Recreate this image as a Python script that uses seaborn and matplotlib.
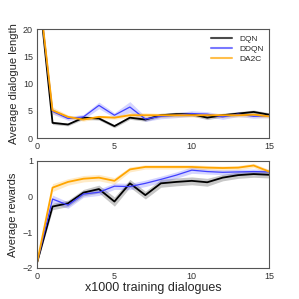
import numpy as np
import pandas as pd
import matplotlib
matplotlib.use("Agg")
import matplotlib.pyplot as plt
import seaborn as sns

x = list(range(16))
models = ["DQN", "DDQN", "DA2C"]

len_dqn = [30.0, 2.8, 2.5, 3.75, 3.6, 2.2, 3.75, 3.4, 4.2, 4.4, 4.4, 3.75, 4.2, 4.5, 4.8, 4.3]
len_ddqn = [30.0, 4.9, 3.6, 3.9, 6.0, 4.2, 5.7, 3.5, 4.0, 4.2, 4.5, 4.4, 3.9, 4.4, 4.0, 4.1]
len_da2c = [30.0, 5.1, 3.9, 3.4, 3.9, 3.75, 4.2, 4.2, 4.2, 4.2, 4.2, 4.2, 4.2, 4.2, 4.3, 4.0]
len_err_dqn = [0.3, 0.3, 0.25, 0.3, 0.3, 0.3, 0.3, 0.3, 0.35, 0.35, 0.35, 0.35, 0.35, 0.35, 0.35, 0.35]
len_err_ddqn = [0.3, 0.5, 0.35, 0.45, 0.6, 0.45, 1.0, 0.45, 0.45, 0.45, 0.5, 0.45, 0.45, 0.45, 0.35, 0.35]
len_err_da2c = [0.3, 0.6, 0.35, 0.3, 0.3, 0.3, 0.45, 0.45, 0.35, 0.35, 0.35, 0.35, 0.35, 0.35, 0.35, 0.35]

rew_dqn = [-1.85, -0.28, -0.19, 0.11, 0.21, -0.14, 0.37, 0.04, 0.37, 0.41, 0.44, 0.40, 0.53, 0.60, 0.63, 0.61]
rew_ddqn = [-1.85, -0.07, -0.24, 0.07, 0.12, 0.29, 0.28, 0.37, 0.48, 0.60, 0.74, 0.70, 0.68, 0.69, 0.70, 0.69]
rew_da2c = [-1.85, 0.25, 0.41, 0.50, 0.53, 0.44, 0.76, 0.83, 0.83, 0.83, 0.83, 0.81, 0.80, 0.81, 0.87, 0.70]
rew_err_dqn = [0.03, 0.09, 0.09, 0.09, 0.11, 0.13, 0.11, 0.11, 0.11, 0.11, 0.11, 0.11, 0.09, 0.09, 0.09, 0.09]
rew_err_ddqn = [0.03, 0.11, 0.09, 0.09, 0.09, 0.09, 0.09, 0.09, 0.09, 0.09, 0.09, 0.07, 0.07, 0.07, 0.07, 0.07]
rew_err_da2c = [0.03, 0.11, 0.09, 0.09, 0.09, 0.09, 0.07, 0.06, 0.06, 0.06, 0.06, 0.06, 0.06, 0.06, 0.06, 0.06]

colors = {"DQN": "black", "DDQN": "#4040ff", "DA2C": "orange"}
widths = {"DQN": 1.3, "DDQN": 0.9, "DA2C": 1.3}

def build(vals, errs):
    rows = []
    for m, v, e in zip(models, vals, errs):
        for xi, vi, ei in zip(x, v, e):
            rows.append({"x": xi, "y": vi, "lo": vi - ei, "hi": vi + ei, "model": m})
    return pd.DataFrame(rows)

df_len = build([len_dqn, len_ddqn, len_da2c], [len_err_dqn, len_err_ddqn, len_err_da2c])
df_rew = build([rew_dqn, rew_ddqn, rew_da2c], [rew_err_dqn, rew_err_ddqn, rew_err_da2c])

sns.set_theme(style="white")
plt.rcParams["font.family"] = ["Liberation Sans", "DejaVu Sans"]

fig = plt.figure(figsize=(2.99, 2.99), dpi=100)
ax1 = fig.add_axes([0.124, 0.538, 0.776, 0.365])
ax2 = fig.add_axes([0.124, 0.104, 0.776, 0.358])

for ax, df in [(ax1, df_len), (ax2, df_rew)]:
    for m in models:
        sub = df[df.model == m]
        ax.fill_between(sub.x, sub.lo, sub.hi, color=colors[m], alpha=0.22, linewidth=0)
    for m in models:
        sub = df[df.model == m]
        sns.lineplot(data=sub, x="x", y="y", ax=ax, color=colors[m],
                     linewidth=widths[m], legend=False)
    ax.set_xlim(0, 15)
    ax.set_xticks([0, 5, 10, 15])
    ax.tick_params(labelsize=6.5, colors="#333333", length=0, pad=3)
    for s in ax.spines.values():
        s.set_color("#555555")
        s.set_linewidth(0.8)

ax1.set_ylim(0, 20)
ax1.set_yticks([0, 5, 10, 15, 20])
ax1.set_xlabel("")
ax1.set_ylabel("Average dialogue length", fontsize=8, labelpad=3)
ax2.set_ylim(-2, 1)
ax2.set_yticks([-2, -1, 0, 1])
ax2.set_yticklabels(["\u22122", "\u22121", "0", "1"])
ax2.set_xlabel("x1000 training dialogues", fontsize=9, labelpad=1)
ax2.set_ylabel("Average rewards", fontsize=8, labelpad=3)

handles = [plt.Line2D([], [], color=colors[m], linewidth=1.5, alpha=0.7) for m in models]
ax1.legend(handles, models, loc="upper right", frameon=False, fontsize=6,
           handlelength=2.5, borderaxespad=0.3, labelspacing=0.3)

fig.savefig("out.png", dpi=100)
